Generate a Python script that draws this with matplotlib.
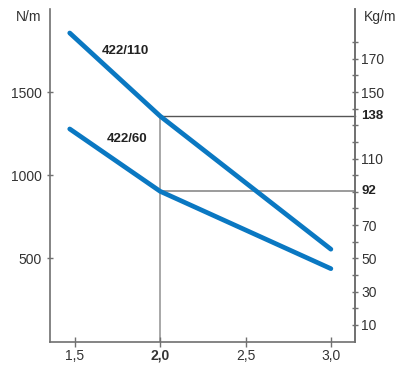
import matplotlib
matplotlib.use("Agg")
from matplotlib.pyplot import subplots, savefig
from matplotlib.transforms import blended_transform_factory

# data
x_110 = [1.47, 2.0, 3.0]
y_110 = [1855, 1355, 555]
x_60 = [1.47, 2.0, 3.0]
y_60 = [1278, 903, 438]
ref_x = 2.0
ref_kg = [92, 138]
g = 9.81

xticks = [1.5, 2.0, 2.5, 3.0]
xticklabels = ["1,5", "2,0", "2,5", "3,0"]
yticks = [500, 1000, 1500]
kg_ticks = list(range(10, 190, 10))
kg_labels = {10: "10", 30: "30", 50: "50", 70: "70", 110: "110", 150: "150", 170: "170"}

blue = "#0a78c2"
gray = "#707070"
txt = "#333333"

matplotlib.rcParams['font.family'] = ['Liberation Sans', 'DejaVu Sans']

fig, ax = subplots(figsize=(4.04, 3.70), dpi=100)
fig.subplots_adjust(left=0.124, right=0.879, bottom=0.077, top=0.976)

ax.set_xlim(1.355, 3.142)
ax.set_ylim(0, 2000)

# reference lines at x = 2.0
ax.plot([ref_x, ref_x], [0, ref_kg[1] * g], color="#999999", lw=1.2, zorder=1)
ax.plot([ref_x, 3.142], [ref_kg[1] * g] * 2, color="#555555", lw=1.0, zorder=1, clip_on=False)
ax.plot([ref_x, 3.142], [ref_kg[0] * g] * 2, color="#8a8a8a", lw=1.2, zorder=1, clip_on=False)

ax.plot(x_110, y_110, color=blue, lw=3.4, solid_capstyle="round", solid_joinstyle="round", zorder=3)
ax.plot(x_60, y_60, color=blue, lw=3.4, solid_capstyle="round", solid_joinstyle="round", zorder=3)

ax.text(1.658, 1745, "422/110", fontsize=9.5, fontweight="bold", color="#222222", ha="left", va="center")
ax.text(1.686, 1217, "422/60", fontsize=9.5, fontweight="bold", color="#222222", ha="left", va="center")

for s in ["left", "bottom", "right"]:
    ax.spines[s].set_color(gray)
    ax.spines[s].set_linewidth(1.2)
ax.spines["top"].set_visible(False)

ax.set_xticks(xticks)
ax.set_xticklabels(xticklabels)
ax.get_xticklabels()[1].set_fontweight("bold")
ax.set_yticks(yticks)
ax.tick_params(axis="x", direction="inout", length=6.5, width=1, color=gray, labelsize=10, labelcolor=txt, pad=2)
ax.tick_params(axis="y", direction="inout", length=4.5, width=1, color=gray, labelsize=10, labelcolor=txt, pad=4)

ax2 = ax.twinx()
ax2.set_ylim(0, 200)
ax2.set_yticks(kg_ticks)
ax2.set_yticklabels([kg_labels.get(k, "") for k in kg_ticks])
ax2.tick_params(axis="y", direction="inout", length=4.5, width=1, color=gray, labelsize=10, labelcolor=txt, pad=2)
for s in ["left", "bottom", "top"]:
    ax2.spines[s].set_visible(False)
ax2.spines["right"].set_color(gray)
ax2.spines["right"].set_linewidth(1.2)

tr = blended_transform_factory(ax.transAxes, ax.transData)
for k in ref_kg:
    ax.text(1.02, k * g, str(k), transform=tr, fontsize=9.5, fontweight="bold", color="#222222", ha="left", va="center")

fig.text(0.071, 0.954, "N/m", fontsize=10, color=txt, ha="center", va="center")
fig.text(0.942, 0.954, "Kg/m", fontsize=10, color=txt, ha="center", va="center")

savefig("out.png", dpi=100)
